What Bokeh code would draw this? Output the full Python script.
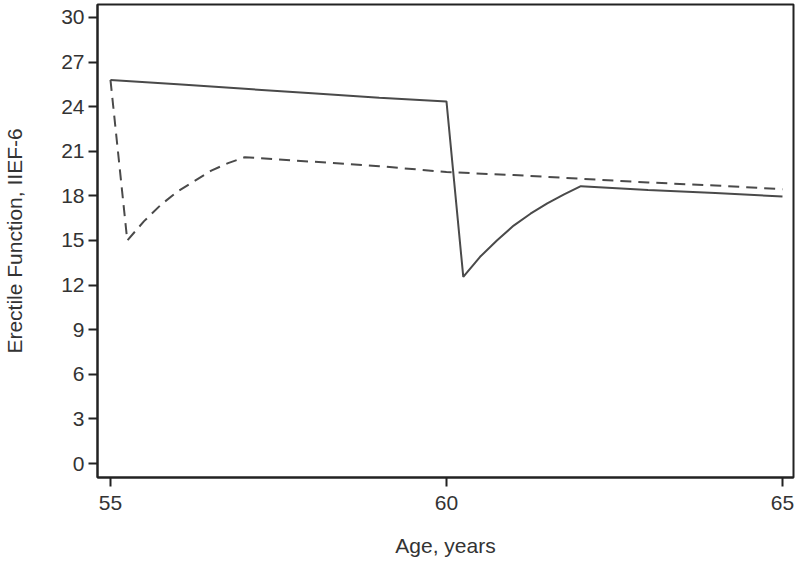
from bokeh.plotting import figure
from bokeh.models import Range1d, FixedTicker
from bokeh.embed import file_html
from bokeh.resources import INLINE

# Data
solid_age = [55.0, 56.0, 57.0, 58.0, 59.0, 60.0, 60.25, 60.5, 60.75, 61.0, 61.25, 61.5, 61.75, 62.0, 63.0, 64.0, 65.0]
solid_ief = [25.8, 25.5, 25.2, 24.9, 24.6, 24.35, 12.55, 13.9, 15.0, 16.0, 16.8, 17.5, 18.1, 18.65, 18.4, 18.2, 17.95]

dashed_age = [55.0, 55.25, 55.5, 55.75, 56.0, 56.25, 56.5, 56.75, 57.0, 58.0, 59.0, 60.0, 61.0, 62.0, 63.0, 64.0, 65.0]
dashed_ief = [25.8, 15.0, 16.3, 17.4, 18.3, 19.0, 19.7, 20.2, 20.6, 20.3, 20.0, 19.6, 19.4, 19.15, 18.9, 18.7, 18.45]

x_ticks = [55, 60, 65]
y_ticks = [0, 3, 6, 9, 12, 15, 18, 21, 24, 27, 30]

FONT = "Liberation Sans"
TXT = "#333333"
LINE = "#4a4a4a"

p = figure(width=800, height=565, output_backend="svg", toolbar_location=None,
           x_range=Range1d(54.807, 65.164), y_range=Range1d(-0.94, 30.87),
           min_border_left=97, min_border_right=7, min_border_top=4, min_border_bottom=88)

p.line(solid_age, solid_ief, line_color=LINE, line_width=2)
p.line(dashed_age, dashed_ief, line_color=LINE, line_width=2, line_dash="11 7")

p.xgrid.visible = False
p.ygrid.visible = False
p.outline_line_color = "#222222"
p.outline_line_width = 2
p.background_fill_color = "white"
p.border_fill_color = "white"

for ax, ticks in ((p.xaxis[0], x_ticks), (p.yaxis[0], y_ticks)):
    ax.ticker = FixedTicker(ticks=ticks)
    ax.minor_tick_line_color = None
    ax.major_tick_in = 0
    ax.major_tick_out = 9
    ax.major_tick_line_color = "#222222"
    ax.major_tick_line_width = 2
    ax.axis_line_color = "#222222"
    ax.axis_line_width = 2
    ax.major_label_text_font = FONT
    ax.major_label_text_font_size = "21px"
    ax.major_label_text_color = TXT
    ax.axis_label_text_font = FONT
    ax.axis_label_text_font_size = "21px"
    ax.axis_label_text_font_style = "normal"
    ax.axis_label_text_color = TXT

p.xaxis.axis_label = "Age, years"
p.yaxis.axis_label = "Erectile Function, IIEF-6"
p.xaxis.major_label_standoff = 9
p.xaxis.axis_label_standoff = 21
p.yaxis.major_label_standoff = 4
p.yaxis.axis_label_standoff = 32

open("out.html", "w").write(file_html(p, INLINE))
